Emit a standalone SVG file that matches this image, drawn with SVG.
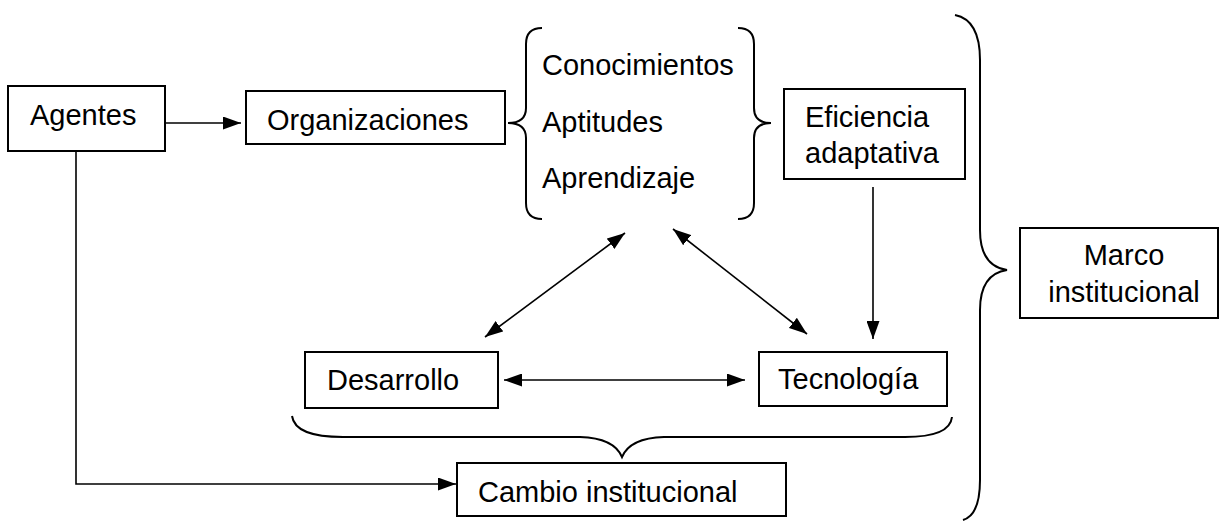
<svg xmlns="http://www.w3.org/2000/svg" width="1219" height="525" viewBox="0 0 1219 525">
<style>
.box{fill:#fff;stroke:#000;stroke-width:2}
.t{font-family:"Liberation Sans",Arial,sans-serif;font-size:29px;fill:#000}
.c{text-anchor:middle}
.ln{fill:none;stroke:#000;stroke-width:1.6}
.br{fill:none;stroke:#000;stroke-width:2}
</style>
<defs>
<marker id="ah" viewBox="0 0 18 13" refX="18" refY="6.5" markerWidth="18" markerHeight="13" orient="auto-start-reverse" markerUnits="userSpaceOnUse">
<path d="M0,0 L18,6.5 L0,13 z" fill="#000"/>
</marker>
</defs>
<rect width="1219" height="525" fill="#fff"/>
<g id="connectors">
<line class="ln" x1="165" y1="123" x2="241" y2="123" marker-end="url(#ah)"/>
<polyline class="ln" points="76,151 76,484 456,484" marker-end="url(#ah)"/>
<line class="ln" x1="873" y1="187" x2="873" y2="339" marker-end="url(#ah)"/>
<line class="ln" x1="504" y1="380" x2="745" y2="380" marker-start="url(#ah)" marker-end="url(#ah)"/>
<line class="ln" x1="625" y1="233" x2="485" y2="337" marker-start="url(#ah)" marker-end="url(#ah)"/>
<line class="ln" x1="673" y1="229" x2="807" y2="334" marker-start="url(#ah)" marker-end="url(#ah)"/>
</g>
<g id="brace-left">
<path class="br" d="M542,28 Q526,28 526,44 L526,108 Q526,123 508,123 Q526,123 526,138 L526,203 Q526,219 542,219"/>
</g>
<g id="brace-right">
<path class="br" d="M738,28 Q754,28 754,44 L754,108 Q754,123 771,123 Q754,123 754,138 L754,203 Q754,219 738,219"/>
</g>
<g id="brace-big">
<path class="br" d="M955,15 Q980,20 980,60 L980,230 Q980,266 1007,270 Q980,274 980,310 L980,480 Q980,515 963,520"/>
</g>
<g id="brace-bottom">
<path class="br" d="M292,416 Q295,437 343,437 L580,437 Q614,438 622,457 Q630,438 664,437 L905,437 Q950,437 952,417"/>
</g>
<g id="agentes">
<rect class="box" x="8" y="86" width="157" height="65"/>
<text class="t" x="30" y="125">Agentes</text>
</g>
<g id="organizaciones">
<rect class="box" x="246" y="91" width="259" height="53"/>
<text class="t" x="267" y="130">Organizaciones</text>
</g>
<g id="lista">
<text class="t" x="542" y="75">Conocimientos</text>
<text class="t" x="542" y="132">Aptitudes</text>
<text class="t" x="542" y="188">Aprendizaje</text>
</g>
<g id="eficiencia">
<rect class="box" x="784" y="89" width="181" height="90"/>
<text class="t" x="805" y="127">Eficiencia</text>
<text class="t" x="805" y="163">adaptativa</text>
</g>
<g id="marco">
<rect class="box" x="1020" y="228" width="198" height="90"/>
<text class="t c" x="1124" y="265">Marco</text>
<text class="t c" x="1124" y="302">institucional</text>
</g>
<g id="desarrollo">
<rect class="box" x="305" y="352" width="193" height="56"/>
<text class="t" x="327" y="390">Desarrollo</text>
</g>
<g id="tecnologia">
<rect class="box" x="759" y="352" width="188" height="54"/>
<text class="t" x="778" y="389">Tecnología</text>
</g>
<g id="cambio">
<rect class="box" x="457" y="463" width="329" height="53"/>
<text class="t" x="478" y="502">Cambio institucional</text>
</g>
</svg>
